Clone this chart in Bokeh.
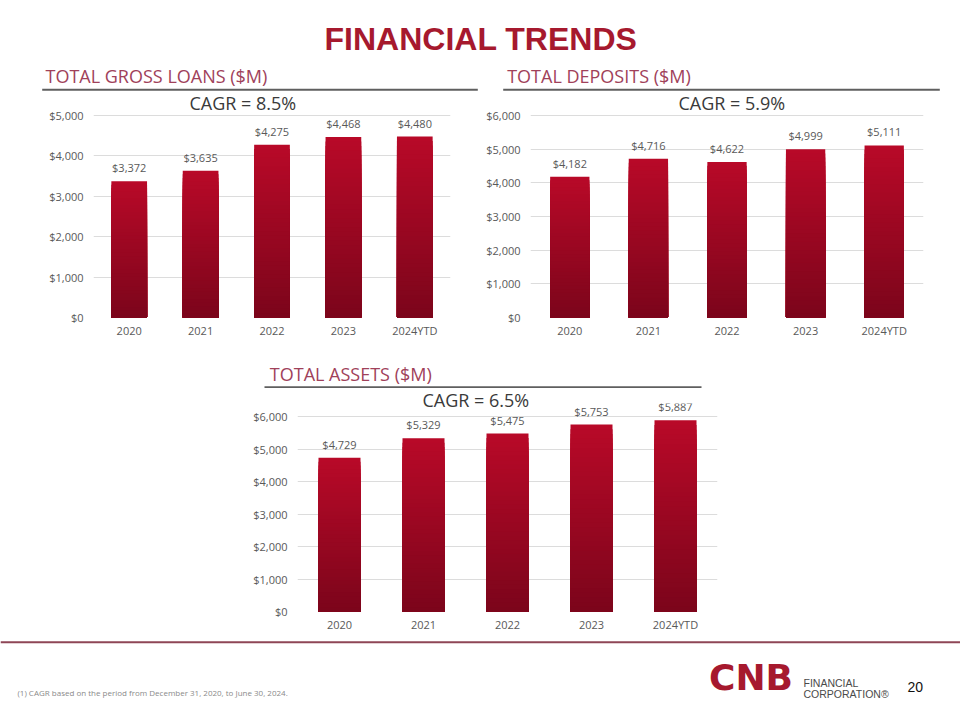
from bokeh.plotting import figure
from bokeh.layouts import column, row
from bokeh.models import (ColumnDataSource, LabelSet, Spacer, FixedTicker,
                          NumeralTickFormatter, Range1d, FactorRange)
from bokeh.embed import file_html
from bokeh.resources import INLINE
from bokeh.core.properties import value

# ---------------- data ----------------
years = ["2020", "2021", "2022", "2023", "2024YTD"]
loans = [3372, 3635, 4275, 4468, 4480]
deposits = [4182, 4716, 4622, 4999, 5111]
assets = [4729, 5329, 5475, 5753, 5887]
loans_ticks = [0, 1000, 2000, 3000, 4000, 5000]
deposits_ticks = [0, 1000, 2000, 3000, 4000, 5000, 6000]
assets_ticks = [0, 1000, 2000, 3000, 4000, 5000, 6000]
loans_cagr = "CAGR = 8.5%"
deposits_cagr = "CAGR = 5.9%"
assets_cagr = "CAGR = 6.5%"
slide_title = "FINANCIAL TRENDS"
loans_header = "TOTAL GROSS LOANS ($M)"
deposits_header = "TOTAL DEPOSITS ($M)"
assets_header = "TOTAL ASSETS ($M)"
footnote = "(1) CAGR based on the period from December 31, 2020, to June 30, 2024."
page_number = "20"

# ---------------- styles ----------------
RED = "#a6192e"
HEADER_RED = "#a0415a"
AXIS_GRAY = "#595959"
GRID = "#dcdcdc"
FONT = "Open Sans"
TOP_RGB = (184, 9, 40)
BOT_RGB = (124, 5, 27)
N_SLICES = 40
DESC = 5.0


def mix(t):
    r = [int(round(TOP_RGB[k] * (1 - t) + BOT_RGB[k] * t)) for k in range(3)]
    return "#%02x%02x%02x" % tuple(r)


def canvas(w, h):
    p = figure(width=w, height=h, x_range=Range1d(0, w), y_range=Range1d(h, 0),
               toolbar_location=None, output_backend="svg", title=None,
               min_border=0, outline_line_color=None)
    p.axis.visible = False
    p.grid.visible = False
    p.background_fill_color = "white"
    p.border_fill_color = "white"
    return p


def bar_chart(cats, vals, ticks, cagr, width, left, right,
              fig_top, frame_top, tick_top_y, zero_y, fig_bottom,
              cagr_offset, cagr_baseline):
    height = fig_bottom - fig_top
    top = frame_top - fig_top
    bottom = fig_bottom - zero_y
    frame_h = zero_y - frame_top
    ytop = ticks[-1] * frame_h / float(zero_y - tick_top_y)
    p = figure(x_range=FactorRange(*cats), y_range=Range1d(0, ytop),
               width=width, height=height,
               min_border_left=left, min_border_right=right,
               min_border_top=top, min_border_bottom=bottom,
               toolbar_location=None, output_backend="svg",
               outline_line_color=None)
    p.background_fill_color = "white"
    p.border_fill_color = "white"

    # gradient bars built from the data values (painter's order, no seams)
    xs, bots, tops, cols = [], [], [], []
    for c, v in zip(cats, vals):
        for i in range(N_SLICES):
            xs.append(c)
            tops.append(v * (N_SLICES - i) / N_SLICES)
            bots.append(0)
            cols.append(mix(i / (N_SLICES - 1.0)))
    src = ColumnDataSource(dict(x=xs, bottom=bots, top=tops, color=cols))
    p.vbar(x="x", bottom="bottom", top="top", width=0.5, source=src,
           fill_color="color", line_color=None)

    lab_src = ColumnDataSource(dict(x=cats, y=vals,
                                    t=["${:,}".format(v) for v in vals]))
    p.add_layout(LabelSet(x="x", y="y", text="t", source=lab_src,
                          text_align="center", text_baseline="bottom",
                          y_offset=6, text_font=value(FONT),
                          text_font_size="11px", text_color=AXIS_GRAY))

    p.yaxis.ticker = FixedTicker(ticks=ticks)
    p.yaxis.formatter = NumeralTickFormatter(format="$0,0")
    for ax in (p.xaxis[0], p.yaxis[0]):
        ax.axis_line_color = None
        ax.major_tick_line_color = None
        ax.minor_tick_line_color = None
        ax.major_tick_out = 0
        ax.major_tick_in = 0
        ax.major_label_text_font = FONT
        ax.major_label_text_font_size = "11px"
        ax.major_label_text_color = AXIS_GRAY
    p.yaxis.major_label_standoff = 10
    p.xaxis.major_label_standoff = 5
    p.xgrid.visible = False
    p.ygrid.grid_line_color = GRID
    p.ygrid.grid_line_width = 1

    p.title.text = cagr
    p.title.align = "left"
    p.title.offset = cagr_offset
    p.title.text_font = FONT
    p.title.text_font_size = "18px"
    p.title.text_font_style = "normal"
    p.title.text_color = "#3a3a3a"
    p.title.standoff = 2 * (frame_top - DESC - cagr_baseline)
    return p


# ---------------- header band (page y 0..91) ----------------
band1 = canvas(960, 91)
band1.text(x=[480.5], y=[38.5], text=[slide_title], text_font=value("Liberation Sans"),
           text_font_style="bold", text_font_size="32px", text_color=RED,
           text_align="center", text_baseline="middle")
band1.text(x=[45, 506.7], y=[75, 75], text=[loans_header, deposits_header],
           text_font=value(FONT), text_font_size="18px", text_color=HEADER_RED,
           text_baseline="middle")
band1.segment(x0=[41.7, 502.7], y0=[89.3, 89.3], x1=[477.3, 939.3], y1=[89.3, 89.3],
              line_color="#5f5f5f", line_width=2)

# ---------------- row 1 charts (page y 91..345) ----------------
c_loans = bar_chart(years, loans, loans_ticks, loans_cagr, 480, 93, 30,
                    91, 105, 115, 317, 345, 96, 109.3)
c_dep = bar_chart(years, deposits, deposits_ticks, deposits_cagr, 480, 50, 37,
                  91, 105, 115, 317, 345, 148, 109.3)

# ---------------- assets band (page y 345..388) ----------------
band2 = canvas(960, 43)
band2.text(x=[269.3], y=[28.2], text=[assets_header], text_font=value(FONT),
           text_font_size="18px", text_color=HEADER_RED, text_baseline="middle")
band2.segment(x0=[264], y0=[41.7], x1=[701], y1=[41.7],
              line_color="#5f5f5f", line_width=2)

# ---------------- assets chart (page y 388..640) ----------------
c_assets = bar_chart(years, assets, assets_ticks, assets_cagr, 494, 49, 25,
                     388, 403, 416, 611, 640, 125, 406.7)

# ---------------- footer (page y 640..712) ----------------
footer = canvas(960, 72)
footer.segment(x0=[0], y0=[1.7], x1=[960], y1=[1.7], line_color="#8e4656",
               line_width=2)
footer.text(x=[17], y=[51.7], text=[footnote], text_font=value(FONT),
            text_font_size="8px", text_color="#8a8a8a", text_baseline="middle")
footer.text(x=[750.5], y=[37], text=["CNB"], text_font=value("DejaVu Sans"),
            text_font_style="bold", text_font_size="36px", text_color=RED,
            text_align="center", text_baseline="middle")
footer.text(x=[803, 803], y=[42, 53], text=["FINANCIAL", "CORPORATION®"],
            text_font=value("Liberation Sans"), text_font_size="10.5px",
            text_color="#4a4a4a", text_baseline="middle")
footer.text(x=[907], y=[46], text=[page_number], text_font=value("Liberation Sans"),
            text_font_size="14px", text_color="#111111", text_baseline="middle")

layout = column(band1, row(c_loans, c_dep), band2,
                row(Spacer(width=248, height=252), c_assets), footer)

open("out.html", "w").write(file_html(layout, INLINE))
